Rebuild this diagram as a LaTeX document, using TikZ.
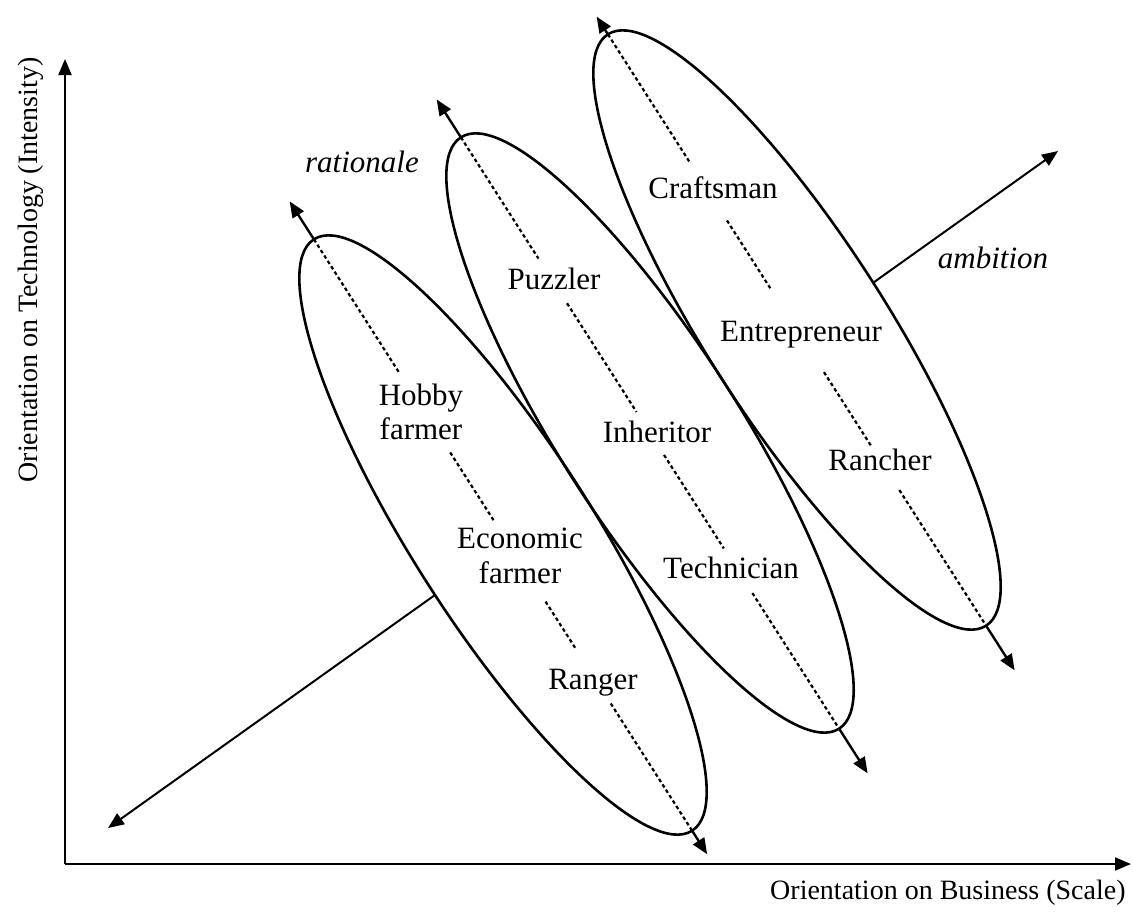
\documentclass[tikz,border=0pt]{standalone}
\usepackage{fontspec}
\setmainfont{Liberation Serif}
\usetikzlibrary{arrows.meta,calc,intersections}
\tikzset{
  every node/.style={font=\fontsize{15.5}{17.2}\selectfont, align=center, inner sep=1pt},
  axislabel/.style={font=\fontsize{14}{16}\selectfont},
  headtip/.style={-{Triangle[length=8pt,width=6.5pt]}},
  axisline/.style={line width=1pt, headtip},
  band/.style={line width=1.3pt},
  spine/.style={line width=1.1pt, dash pattern=on 1.8pt off 1.4pt},
  tipline/.style={line width=1.2pt, headtip},
  ambline/.style={line width=1pt, headtip},
  motive/.style={font=\fontsize{15.5}{17.2}\selectfont\itshape},
}
% dotted piece of a major axis: #1 top vertex, #2 bottom vertex, #3/#4 start/end (px along the axis)
\newcommand\spinepiece[4]{%
  \draw[spine] ($(#1)!#3*0.5pt!(#2)$) -- ($(#1)!#4*0.5pt!(#2)$);}
\begin{document}
\begin{tikzpicture}[x=0.5pt,y=0.5pt]
\useasboundingbox (0,-923) rectangle (1133,0);

% axes
\coordinate (o) at (65,-864);
\coordinate (ytip) at (65,-59);
\coordinate (xtip) at (1131,-864);
\draw[axisline] (o) -- (ytip);
\draw[axisline] (o) -- (xtip);
\node[axislabel, rotate=90, anchor=east] (ylab) at (31,-55) {Orientation on Technology (Intensity)};
\node[axislabel, anchor=east] (xlab) at (1128,-893) {Orientation on Business (Scale)};

% ellipse centres
\coordinate (c1) at (503,-535);
\coordinate (c2) at (650,-433);
\coordinate (c3) at (797,-330);

% ellipses
\foreach \i in {1,2,3}{
  \draw[band, name path global=e\i, rotate around={-57.4:(c\i)}] (c\i) ellipse [x radius=351, y radius=89.7];
  \coordinate (v\i t) at ($(c\i)+(122.6:351)$);
  \coordinate (v\i b) at ($(c\i)+(-57.4:351)$);
}

% arrow tips of the major axes
\coordinate (t1t) at ($(c1)+(122.6:396)$);
\coordinate (t1b) at ($(c1)+(-57.4:379)$);
\coordinate (t2t) at ($(c2)+(122.6:396)$);
\coordinate (t2b) at ($(c2)+(-57.4:404)$);
\coordinate (t3t) at ($(c3)+(122.6:372)$);
\coordinate (t3b) at ($(c3)+(-57.4:404)$);
\foreach \i in {1,2,3}{
  \draw[tipline] (v\i t) -- (t\i t);
  \draw[tipline] (v\i b) -- (t\i b);
}

% dotted major axes, interrupted by the labels
\spinepiece{v1t}{v1b}{0}{160}
\spinepiece{v1t}{v1b}{253}{334}
\spinepiece{v1t}{v1b}{430}{486}
\spinepiece{v1t}{v1b}{551}{702}
\spinepiece{v2t}{v2b}{0}{144}
\spinepiece{v2t}{v2b}{197}{326}
\spinepiece{v2t}{v2b}{377}{488}
\spinepiece{v2t}{v2b}{541}{702}
\spinepiece{v3t}{v3b}{0}{153}
\spinepiece{v3t}{v3b}{221}{304}
\spinepiece{v3t}{v3b}{401}{490}
\spinepiece{v3t}{v3b}{541}{702}

% labels
\node (hobby) at (421,-412) {Hobby\\farmer};
\node (econ) at (520,-556) {Economic\\farmer};
\node (ranger) at (593,-683) {Ranger};
\node (puzzler) at (554,-279) {Puzzler};
\node (inheritor) at (657,-432) {Inheritor};
\node (technician) at (731,-568) {Technician};
\node (craftsman) at (713,-188) {Craftsman};
\node (entre) at (801,-335) {Entrepreneur};
\node (rancher) at (880,-460) {Rancher};
\node[motive] (rationale) at (362,-162) {rationale};
\node[motive] (ambition) at (993,-258) {ambition};

% ambition axis, hidden inside the ellipses
\coordinate (amblo) at (108,-828);
\coordinate (ambhi) at (1058,-151);
\path[name path=amb] (amblo) -- (ambhi);
\path[name intersections={of=amb and e1, sort by=amb, name=p}];
\path[name intersections={of=amb and e3, sort by=amb, name=q}];
\draw[ambline] (p-1) -- (amblo);
\draw[ambline] (q-2) -- (ambhi);
\end{tikzpicture}
\end{document}
